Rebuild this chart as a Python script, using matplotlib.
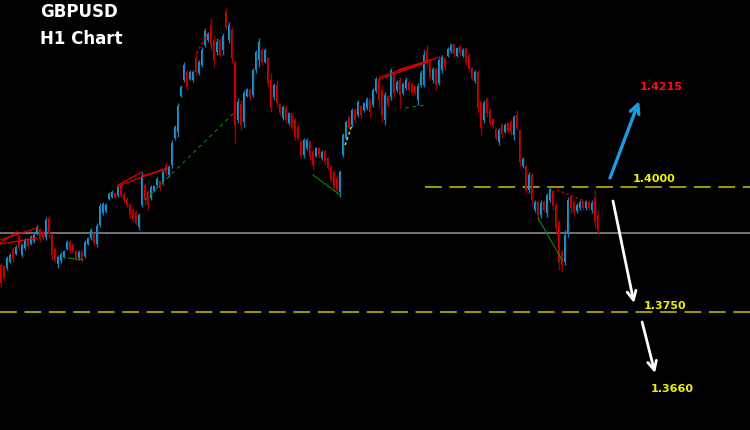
import matplotlib
matplotlib.use("Agg")
import matplotlib.pyplot as plt
import numpy as np

# GBPUSD H1 candles
opens = np.array([
    1.3844, 1.3842, 1.3838, 1.3850, 1.3876, 1.3866, 1.3902, 1.3864, 1.3878, 1.3896,
    1.3886, 1.3892, 1.3906, 1.3916, 1.3910, 1.3900, 1.3938, 1.3904, 1.3876, 1.3846,
    1.3852, 1.3860, 1.3876, 1.3890, 1.3884, 1.3872, 1.3858, 1.3870, 1.3862, 1.3886,
    1.3898, 1.3908, 1.3886, 1.3924, 1.3948, 1.3952, 1.3976, 1.3980, 1.3988, 1.3984,
    1.4002, 1.3986, 1.3976, 1.3964, 1.3954, 1.3950, 1.3920, 1.3964, 1.4004, 1.3990,
    1.3978, 1.3992, 1.4004, 1.4012, 1.4008, 1.4044, 1.4024, 1.4044, 1.4098, 1.4110,
    1.4182, 1.4214, 1.4230, 1.4216, 1.4214, 1.4258, 1.4228, 1.4244, 1.4284, 1.4294,
    1.4324, 1.4294, 1.4270, 1.4294, 1.4274, 1.4350, 1.4294, 1.4314, 1.4250, 1.4134,
    1.4166, 1.4130, 1.4182, 1.4194, 1.4184, 1.4234, 1.4254, 1.4274, 1.4250, 1.4258,
    1.4214, 1.4180, 1.4204, 1.4166, 1.4138, 1.4158, 1.4128, 1.4146, 1.4134, 1.4120,
    1.4092, 1.4064, 1.4078, 1.4092, 1.4070, 1.4062, 1.4078, 1.4058, 1.4072, 1.4058,
    1.4040, 1.4030, 1.4018, 1.3990, 1.4064, 1.4098, 1.4140, 1.4124, 1.4154, 1.4144,
    1.4162, 1.4154, 1.4158, 1.4174, 1.4164, 1.4192, 1.4216, 1.4194, 1.4134, 1.4182,
    1.4180, 1.4222, 1.4194, 1.4214, 1.4188, 1.4198, 1.4210, 1.4206, 1.4202, 1.4174,
    1.4204, 1.4204, 1.4274, 1.4250, 1.4214, 1.4236, 1.4208, 1.4234, 1.4258, 1.4262,
    1.4272, 1.4286, 1.4262, 1.4282, 1.4262, 1.4278, 1.4264, 1.4238, 1.4212, 1.4230,
    1.4170, 1.4134, 1.4176, 1.4154, 1.4136, 1.4116, 1.4090, 1.4124, 1.4110, 1.4128,
    1.4130, 1.4104, 1.4144, 1.4114, 1.4042, 1.4042, 1.3994, 1.4024, 1.3954, 1.3970,
    1.3944, 1.3970, 1.3948, 1.3974, 1.3992, 1.3964, 1.3930, 1.3870, 1.3850, 1.3908,
    1.3980, 1.3970, 1.3952, 1.3958, 1.3972, 1.3958, 1.3970, 1.3954, 1.3978, 1.3944,
])
highs = np.array([
    1.3848, 1.3844, 1.3862, 1.3868, 1.3880, 1.3884, 1.3910, 1.3888, 1.3898, 1.3898,
    1.3904, 1.3908, 1.3924, 1.3918, 1.3914, 1.3940, 1.3944, 1.3908, 1.3880, 1.3864,
    1.3870, 1.3874, 1.3894, 1.3894, 1.3888, 1.3874, 1.3874, 1.3874, 1.3894, 1.3900,
    1.3918, 1.3910, 1.3928, 1.3968, 1.3970, 1.3968, 1.3990, 1.3994, 1.3990, 1.4004,
    1.4006, 1.3990, 1.3980, 1.3968, 1.3958, 1.3954, 1.3948, 1.4030, 1.4008, 1.3994,
    1.4004, 1.4004, 1.4020, 1.4014, 1.4034, 1.4050, 1.4044, 1.4094, 1.4124, 1.4168,
    1.4204, 1.4250, 1.4234, 1.4234, 1.4234, 1.4270, 1.4254, 1.4280, 1.4318, 1.4310,
    1.4338, 1.4304, 1.4298, 1.4298, 1.4308, 1.4358, 1.4330, 1.4320, 1.4254, 1.4178,
    1.4174, 1.4194, 1.4198, 1.4198, 1.4238, 1.4274, 1.4298, 1.4278, 1.4278, 1.4260,
    1.4228, 1.4208, 1.4214, 1.4168, 1.4164, 1.4164, 1.4150, 1.4150, 1.4138, 1.4124,
    1.4094, 1.4098, 1.4098, 1.4094, 1.4074, 1.4080, 1.4080, 1.4074, 1.4074, 1.4060,
    1.4044, 1.4034, 1.4024, 1.4034, 1.4108, 1.4134, 1.4144, 1.4158, 1.4158, 1.4174,
    1.4164, 1.4170, 1.4180, 1.4178, 1.4198, 1.4220, 1.4220, 1.4204, 1.4190, 1.4184,
    1.4238, 1.4224, 1.4214, 1.4220, 1.4210, 1.4220, 1.4214, 1.4210, 1.4204, 1.4208,
    1.4234, 1.4274, 1.4284, 1.4254, 1.4240, 1.4240, 1.4258, 1.4264, 1.4260, 1.4280,
    1.4288, 1.4288, 1.4280, 1.4284, 1.4278, 1.4280, 1.4268, 1.4240, 1.4234, 1.4234,
    1.4174, 1.4174, 1.4180, 1.4158, 1.4138, 1.4118, 1.4118, 1.4128, 1.4128, 1.4130,
    1.4134, 1.4144, 1.4154, 1.4114, 1.4060, 1.4044, 1.4030, 1.4030, 1.3974, 1.3974,
    1.3974, 1.3974, 1.3988, 1.4000, 1.3994, 1.3968, 1.3934, 1.3874, 1.3914, 1.3980,
    1.3984, 1.3974, 1.3968, 1.3974, 1.3974, 1.3974, 1.3974, 1.3974, 1.3994, 1.3954,
])
lows = np.array([
    1.3800, 1.3814, 1.3834, 1.3848, 1.3850, 1.3864, 1.3874, 1.3860, 1.3874, 1.3878,
    1.3884, 1.3888, 1.3904, 1.3890, 1.3894, 1.3894, 1.3898, 1.3854, 1.3850, 1.3838,
    1.3848, 1.3858, 1.3874, 1.3868, 1.3868, 1.3854, 1.3854, 1.3850, 1.3858, 1.3884,
    1.3894, 1.3884, 1.3880, 1.3920, 1.3944, 1.3948, 1.3974, 1.3978, 1.3978, 1.3980,
    1.3978, 1.3970, 1.3960, 1.3938, 1.3930, 1.3924, 1.3914, 1.3960, 1.3964, 1.3954,
    1.3974, 1.3990, 1.4000, 1.3994, 1.4004, 1.4024, 1.4020, 1.4038, 1.4094, 1.4100,
    1.4180, 1.4210, 1.4194, 1.4214, 1.4210, 1.4224, 1.4224, 1.4240, 1.4280, 1.4290,
    1.4274, 1.4240, 1.4264, 1.4260, 1.4264, 1.4314, 1.4288, 1.4248, 1.4088, 1.4128,
    1.4114, 1.4120, 1.4180, 1.4174, 1.4180, 1.4228, 1.4240, 1.4244, 1.4248, 1.4200,
    1.4150, 1.4174, 1.4160, 1.4144, 1.4134, 1.4128, 1.4124, 1.4114, 1.4094, 1.4094,
    1.4058, 1.4058, 1.4074, 1.4054, 1.4034, 1.4060, 1.4058, 1.4054, 1.4044, 1.4034,
    1.4010, 1.3994, 1.3990, 1.3980, 1.4060, 1.4094, 1.4114, 1.4120, 1.4128, 1.4140,
    1.4138, 1.4150, 1.4154, 1.4140, 1.4160, 1.4188, 1.4160, 1.4130, 1.4124, 1.4160,
    1.4174, 1.4180, 1.4190, 1.4158, 1.4184, 1.4194, 1.4190, 1.4184, 1.4184, 1.4164,
    1.4200, 1.4200, 1.4240, 1.4214, 1.4208, 1.4194, 1.4204, 1.4228, 1.4234, 1.4260,
    1.4268, 1.4260, 1.4260, 1.4264, 1.4260, 1.4244, 1.4230, 1.4214, 1.4208, 1.4148,
    1.4104, 1.4128, 1.4140, 1.4124, 1.4118, 1.4094, 1.4084, 1.4100, 1.4108, 1.4108,
    1.4104, 1.4094, 1.4114, 1.4040, 1.4038, 1.3988, 1.3988, 1.3964, 1.3950, 1.3934,
    1.3938, 1.3950, 1.3940, 1.3970, 1.3954, 1.3908, 1.3834, 1.3830, 1.3844, 1.3900,
    1.3948, 1.3944, 1.3948, 1.3954, 1.3954, 1.3954, 1.3954, 1.3948, 1.3918, 1.3908,
])
closes = np.array([
    1.3808, 1.3818, 1.3858, 1.3864, 1.3856, 1.3880, 1.3878, 1.3884, 1.3894, 1.3882,
    1.3900, 1.3904, 1.3920, 1.3896, 1.3898, 1.3934, 1.3906, 1.3864, 1.3854, 1.3860,
    1.3866, 1.3872, 1.3890, 1.3874, 1.3870, 1.3858, 1.3870, 1.3856, 1.3890, 1.3898,
    1.3914, 1.3888, 1.3922, 1.3962, 1.3966, 1.3964, 1.3986, 1.3990, 1.3980, 1.4000,
    1.3982, 1.3974, 1.3964, 1.3944, 1.3936, 1.3928, 1.3944, 1.4022, 1.3974, 1.3964,
    1.4000, 1.4002, 1.4016, 1.3998, 1.4030, 1.4028, 1.4040, 1.4088, 1.4120, 1.4162,
    1.4200, 1.4244, 1.4200, 1.4230, 1.4230, 1.4230, 1.4250, 1.4274, 1.4312, 1.4306,
    1.4284, 1.4254, 1.4290, 1.4264, 1.4302, 1.4318, 1.4324, 1.4258, 1.4124, 1.4170,
    1.4124, 1.4188, 1.4196, 1.4180, 1.4234, 1.4270, 1.4290, 1.4250, 1.4274, 1.4208,
    1.4158, 1.4204, 1.4168, 1.4148, 1.4160, 1.4134, 1.4148, 1.4120, 1.4100, 1.4098,
    1.4062, 1.4094, 1.4094, 1.4060, 1.4044, 1.4078, 1.4064, 1.4070, 1.4050, 1.4038,
    1.4014, 1.3998, 1.3994, 1.4030, 1.4104, 1.4130, 1.4118, 1.4154, 1.4134, 1.4170,
    1.4144, 1.4168, 1.4176, 1.4150, 1.4194, 1.4216, 1.4174, 1.4144, 1.4184, 1.4164,
    1.4234, 1.4188, 1.4210, 1.4184, 1.4206, 1.4214, 1.4194, 1.4190, 1.4188, 1.4202,
    1.4228, 1.4264, 1.4248, 1.4220, 1.4236, 1.4204, 1.4254, 1.4260, 1.4240, 1.4276,
    1.4284, 1.4266, 1.4278, 1.4268, 1.4274, 1.4250, 1.4236, 1.4218, 1.4230, 1.4158,
    1.4118, 1.4168, 1.4148, 1.4128, 1.4122, 1.4098, 1.4114, 1.4106, 1.4124, 1.4112,
    1.4110, 1.4140, 1.4118, 1.4050, 1.4056, 1.3994, 1.4024, 1.3974, 1.3970, 1.3944,
    1.3968, 1.3954, 1.3984, 1.3996, 1.3962, 1.3918, 1.3850, 1.3844, 1.3904, 1.3974,
    1.3958, 1.3950, 1.3964, 1.3970, 1.3958, 1.3970, 1.3958, 1.3968, 1.3930, 1.3914,
])

# levels and projections
current_price = 1.3908
resistance = 1.4000
resistance_start = 141.3
support = 1.3750
target_up = 1.4215
target_down = 1.3660

# trend lines drawn on the chart: ((bar, price), (bar, price))
red_lines = [((-0.3, 1.3894), (12, 1.3918)), ((-0.3, 1.3888), (5.3, 1.3910)),
             ((-0.3, 1.3886), (12, 1.3898)), ((39, 1.4004), (47, 1.4030)),
             ((39, 1.4002), (55.3, 1.4038)), ((47, 1.4022), (55.3, 1.4036)),
             ((126.3, 1.4220), (146.3, 1.4260)), ((132.3, 1.4234), (143, 1.4254)),
             ((126.3, 1.4216), (142.3, 1.4250))]
red_dotted = [((65.3, 1.4268), (69, 1.4310)), ((185.3, 1.3994), (195.3, 1.3970))]
green_solid = [((104, 1.4024), (113, 1.3984)), ((179, 1.3938), (187, 1.3854)),
               ((22.3, 1.3858), (27.3, 1.3854))]
green_dotted = [((48, 1.3974), (78, 1.4150)), ((134.7, 1.4158), (141.3, 1.4164))]
yellow_dotted = [((114.7, 1.4084), (117, 1.4124))]

# arrows: (start, tip)
up_arrow = ((203.0, 1.4018), (212.7, 1.4172))
down_arrows = [((204.0, 1.3972), (211.0, 1.3768)), ((213.7, 1.3730), (218.0, 1.3628))]

bull_body, bull_wick = '#1e9cd8', '#1a7cb0'
bear_body, bear_wick = '#e00000', '#a00000'

fig = plt.figure(figsize=(7.5, 4.3), dpi=100, facecolor='black')
ax = fig.add_axes([0, 0, 1, 1], facecolor='black')

x = np.arange(len(closes))
up = closes >= opens
ax.vlines(x, lows, highs, colors=np.where(up, bull_wick, bear_wick).tolist(), linewidth=1.0)
body = np.maximum(np.abs(closes - opens), 0.0002)
ax.bar(x, body, bottom=np.minimum(opens, closes), width=0.85,
       color=np.where(up, bull_body, bear_body).tolist(), linewidth=0)

for (a, b) in red_lines:
    ax.plot([a[0], b[0]], [a[1], b[1]], color='#e00000', lw=0.9)
for (a, b) in red_dotted:
    ax.plot([a[0], b[0]], [a[1], b[1]], color='#e00000', lw=0.9, ls=(0, (2, 2)))
for (a, b) in green_solid:
    ax.plot([a[0], b[0]], [a[1], b[1]], color='#0a8a0a', lw=0.8)
for (a, b) in green_dotted:
    ax.plot([a[0], b[0]], [a[1], b[1]], color='#0a7a0a', lw=0.9, ls=(0, (3, 3)))
for (a, b) in yellow_dotted:
    ax.plot([a[0], b[0]], [a[1], b[1]], color='#e6e600', lw=1.0, ls=(0, (2, 2)))

ax.axhline(current_price, color='#7a7a7a', lw=1.3, zorder=0)
ax.plot([resistance_start, 260], [resistance, resistance], color='#c8c400', lw=1.1,
        ls=(0, (11, 5)), zorder=0)
ax.axhline(support, color='#c8c400', lw=1.1, ls=(0, (11, 5)), zorder=0)

ax.annotate('', xy=up_arrow[1], xytext=up_arrow[0],
            arrowprops=dict(arrowstyle='->', color='#1e9be0', lw=2.4,
                            mutation_scale=16, shrinkA=0, shrinkB=0))
for s, t in down_arrows:
    ax.annotate('', xy=t, xytext=s,
                arrowprops=dict(arrowstyle='->', color='white', lw=2.0,
                                mutation_scale=16, shrinkA=0, shrinkB=0))

lbl = dict(fontsize=8, fontweight='bold', ha='center', va='center', family='DejaVu Sans')
ax.text(220.0, 1.4200, f'{target_up:.4f}', color='#ff1010', **lbl)
ax.text(217.7, 1.4016, f'{resistance:.4f}', color='#f0f000', **lbl)
ax.text(221.3, 1.3762, f'{support:.4f}', color='#f0f000', **lbl)
ax.text(223.7, 1.3596, f'{target_down:.4f}', color='#f0f000', **lbl)

fig.text(40 / 750, 1 - 12 / 430, 'GBPUSD', color='white', fontsize=12,
         fontweight='bold', ha='left', va='center')
fig.text(40 / 750, 1 - 38.5 / 430, 'H1 Chart', color='white', fontsize=12,
         fontweight='bold', ha='left', va='center')

ax.set_xlim(-1 / 3, 250 - 1 / 3)
ax.set_ylim(1.3514, 1.4374)
ax.axis('off')

fig.savefig('out.png', dpi=100, facecolor='black')
